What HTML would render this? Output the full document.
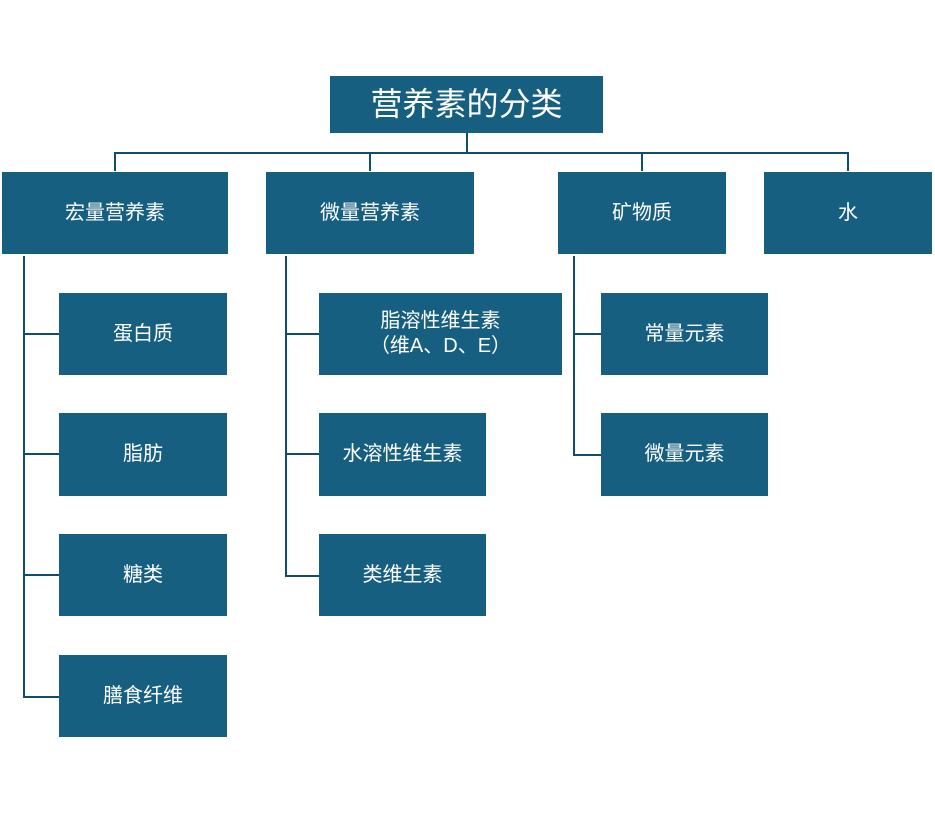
<!DOCTYPE html><html><head><meta charset="utf-8"><style>
body{margin:0;width:935px;height:815px;background:#fff;position:relative;font-family:"Liberation Sans","Noto Sans CJK SC",sans-serif;overflow:hidden}
.b{position:absolute;background:#175F80;color:#fff;display:flex;align-items:center;justify-content:center;text-align:center;font-size:20px;line-height:25px}
svg{position:absolute;left:0;top:0}
</style></head><body>
<svg width="935" height="815"><g stroke="#114d6a" stroke-width="2" fill="none">
<path d="M467 133V153M115 171V153H848V171M370 153V171M642 153V171"/>
<path d="M24 256V697H59M24 334H59M24 454H59M24 575H59"/>
<path d="M286 256V576H319M286 334H319M286 454H319"/>
<path d="M574 256V455H601M574 334H601"/>
</g></svg>
<div class="b" style="left:330px;top:76px;width:273px;height:57px;font-size:32px">营养素的分类</div>
<div class="b" style="left:2px;top:172px;width:226px;height:82px">宏量营养素</div>
<div class="b" style="left:266px;top:172px;width:208px;height:82px">微量营养素</div>
<div class="b" style="left:558px;top:172px;width:168px;height:82px">矿物质</div>
<div class="b" style="left:764px;top:172px;width:168px;height:82px">水</div>
<div class="b" style="left:59px;top:293px;width:168px;height:82px">蛋白质</div>
<div class="b" style="left:59px;top:413px;width:168px;height:83px">脂肪</div>
<div class="b" style="left:59px;top:534px;width:168px;height:82px">糖类</div>
<div class="b" style="left:59px;top:655px;width:168px;height:82px">膳食纤维</div>
<div class="b" style="left:319px;top:293px;width:243px;height:82px">脂溶性维生素<br>（维A、D、E）</div>
<div class="b" style="left:319px;top:413px;width:167px;height:83px">水溶性维生素</div>
<div class="b" style="left:319px;top:534px;width:167px;height:82px">类维生素</div>
<div class="b" style="left:601px;top:293px;width:167px;height:82px">常量元素</div>
<div class="b" style="left:601px;top:413px;width:167px;height:83px">微量元素</div>
</body></html>
